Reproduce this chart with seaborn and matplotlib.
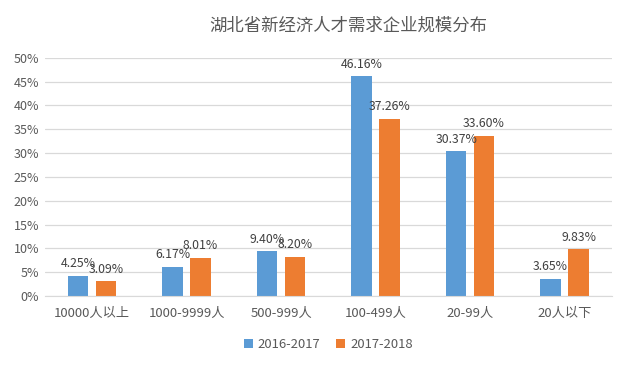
import pandas as pd
import numpy as np
import matplotlib
matplotlib.use('Agg')
import matplotlib.pyplot as plt
import seaborn as sns

# 数据
categories = ['10000人以上', '1000-9999人', '500-999人', '100-499人', '20-99人', '20人以下']
series_names = ['2016-2017', '2017-2018']
values_1617 = [4.25, 6.17, 9.40, 46.16, 30.37, 3.65]
values_1718 = [3.09, 8.01, 8.20, 37.26, 33.60, 9.83]
colors = ['#5B9BD5', '#ED7D31']

sns.set_style('white')
plt.rcParams['font.family'] = ['Noto Sans CJK SC', 'DejaVu Sans']

df = pd.DataFrame({
    '规模': categories * 2,
    '年份': [series_names[0]] * len(categories) + [series_names[1]] * len(categories),
    '占比': values_1617 + values_1718,
})

fig = plt.figure(figsize=(6.4, 3.66), dpi=100)
ax = fig.add_axes([0.07, 0.191, 0.886, 0.651])

sns.barplot(data=df, x='规模', y='占比', hue='年份', palette=colors,
            saturation=1, linewidth=0, width=0.59, gap=0.26, ax=ax, legend=True)

# 数据标签
for container in ax.containers:
    labels = [f'{v:.2f}%' for v in container.datavalues]
    ax.bar_label(container, labels=labels, padding=4, fontsize=8.8, color='#404040')

ax.set_ylim(0, 50)
ax.set_yticks(np.arange(0, 51, 5))
ax.set_yticklabels([f'{t}%' for t in range(0, 51, 5)])
ax.set_xlim(-0.5, len(categories) - 0.5)
ax.set_xlabel('')
ax.set_ylabel('')
ax.grid(axis='y', color='#D9D9D9', linewidth=0.9)
ax.set_axisbelow(True)
for s in ['top', 'right', 'left']:
    ax.spines[s].set_visible(False)
ax.spines['bottom'].set_color('#D9D9D9')
ax.tick_params(axis='both', length=0, colors='#595959', labelsize=9)
ax.tick_params(axis='x', pad=8, labelsize=9.5)
ax.tick_params(axis='y', pad=4)

handles, lbls = ax.get_legend_handles_labels()
ax.legend(handles, lbls, loc='center', bbox_to_anchor=(0.5, -0.205), ncol=2,
          frameon=False, fontsize=9.4, handlelength=0.7, handleheight=0.7,
          columnspacing=1.2, handletextpad=0.4, labelcolor='#595959')

fig.text(0.544, 0.93, '湖北省新经济人才需求企业规模分布', ha='center', va='center',
         fontsize=12.5, color='#595959')

fig.savefig('out.png', dpi=100)
